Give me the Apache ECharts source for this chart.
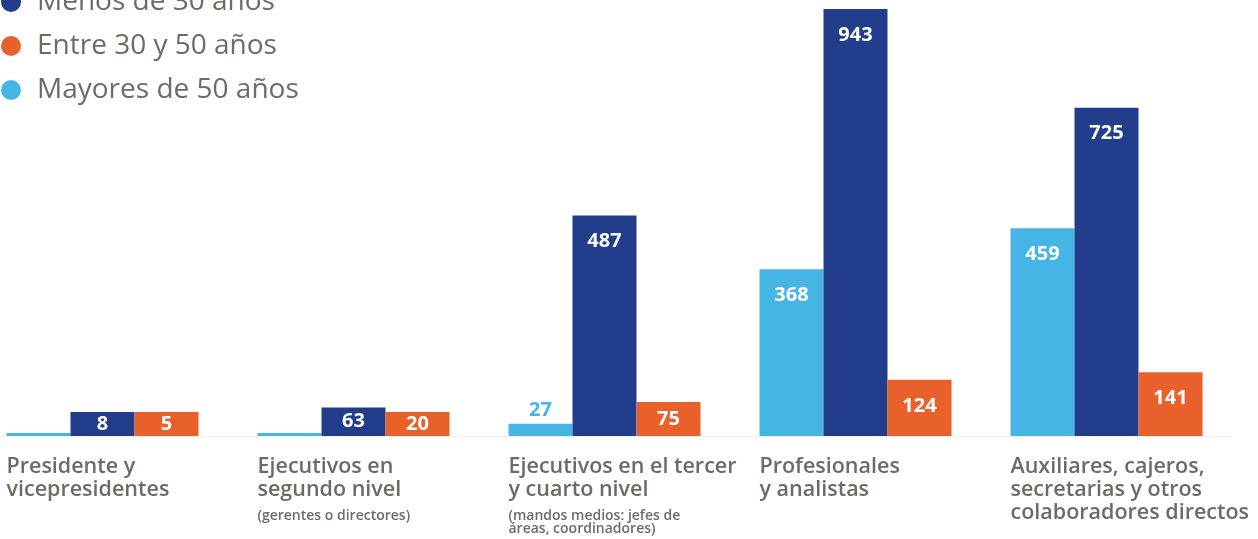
<!DOCTYPE html>
<html>
<head>
<meta charset="utf-8">
<script src="https://cdn.jsdelivr.net/npm/echarts@6/dist/echarts.min.js"></script>
<style>
  html, body { margin: 0; padding: 0; background: #ffffff; }
  #chart { width: 1258px; height: 539px; }
</style>
</head>
<body>
<div id="chart"></div>
<script>
// Cargos (nombre principal y nota entre paréntesis)
const categories = [
  'Presidente y\nvicepresidentes',
  'Ejecutivos en\nsegundo nivel',
  'Ejecutivos en el tercer\ny cuarto nivel',
  'Profesionales\ny analistas',
  'Auxiliares, cajeros,\nsecretarias y otros\ncolaboradores directos'
];
const notes = [
  '',
  '(gerentes o directores)',
  '(mandos medios: jefes de\náreas, coordinadores)',
  '',
  ''
];

// Número de colaboradores por rango de edad
const mayores50 = [0, 0, 27, 368, 459];
const menos30 = [8, 63, 487, 943, 725];
const entre30y50 = [5, 20, 75, 124, 141];

const seriesNames = ['Mayores de 50 años', 'Menos de 30 años', 'Entre 30 y 50 años'];
const legendOrder = ['Menos de 30 años', 'Entre 30 y 50 años', 'Mayores de 50 años'];

const colors = {
  light: '#45b5e6',
  dark: '#223d8c',
  orange: '#e8612b',
  text: '#6f6a65'
};

const chart = echarts.init(document.getElementById('chart'), null, { renderer: 'canvas' });

const labelFont = {
  fontFamily: 'Open Sans',
  fontWeight: 'bold',
  fontSize: 20
};

// Valor en blanco dentro de la barra; si la barra es muy baja, encima y del color de la serie
function makeLabel(color) {
  return Object.assign({
    show: true,
    color: '#ffffff',
    formatter: p => {
      if (p.value === 0) return '';
      return p.value < 40 && color === colors.light ? '{out|' + p.value + '}' : String(p.value);
    },
    rich: {
      out: Object.assign({ color: color }, labelFont)
    }
  }, labelFont);
}

function placeLabel(params) {
  const r = params.rect;
  const y = r.height < 20 ? r.y - 13 : r.y + Math.min(26, r.height / 2);
  return {
    x: r.x + r.width / 2,
    y: y,
    align: 'center',
    verticalAlign: 'middle'
  };
}

function barSeries(name, data, color, minH) {
  return {
    name: name,
    type: 'bar',
    data: data,
    barWidth: 64,
    barGap: '0%',
    barMinHeight: minH,
    itemStyle: { color: color },
    label: makeLabel(color),
    labelLayout: placeLabel,
    emphasis: { disabled: true },
    animation: false
  };
}

function categoryLabel(value, index) {
  const main = value.split('\n').map(l => '{m|' + l + '}');
  const sub = notes[index] ? notes[index].split('\n') : [];
  const subLines = sub.map((l, i) => (i === 0 ? '{s1|' + l + '}' : '{s|' + l + '}'));
  return main.concat(subLines).join('\n');
}

const subStyle = {
  align: 'left',
  color: colors.text,
  fontFamily: 'Open Sans',
  fontWeight: 600,
  fontSize: 14,
  lineHeight: 13
};

chart.setOption({
  backgroundColor: '#ffffff',
  animation: false,
  legend: {
    data: legendOrder,
    orient: 'vertical',
    left: 1,
    top: -12,
    padding: 0,
    icon: 'circle',
    itemWidth: 20,
    itemHeight: 20,
    itemGap: 16,
    selectedMode: false,
    textStyle: {
      color: colors.text,
      fontFamily: 'Open Sans',
      fontSize: 28,
      lineHeight: 27,
      padding: [0, 0, 0, 11]
    }
  },
  grid: {
    left: -23,
    right: 26,
    top: 9,
    bottom: 103,
    outerBoundsMode: 'none',
    containLabel: false
  },
  xAxis: {
    type: 'category',
    data: categories,
    axisTick: { show: false },
    axisLine: { show: true, lineStyle: { color: '#efefef', width: 1 } },
    axisLabel: {
      interval: 0,
      margin: 19,
      align: 'center',
      width: 192,
      hideOverlap: false,
      formatter: categoryLabel,
      rich: {
        m: {
          align: 'left',
          color: colors.text,
          fontFamily: 'Open Sans',
          fontWeight: 600,
          fontSize: 21.5,
          lineHeight: 23
        },
        s1: Object.assign({}, subStyle, { lineHeight: 22, verticalAlign: 'bottom' }),
        s: subStyle
      }
    }
  },
  yAxis: {
    type: 'value',
    min: 0,
    max: 'dataMax',
    show: false,
    splitLine: { show: false }
  },
  series: [
    barSeries(seriesNames[0], mayores50, colors.light, 3),
    barSeries(seriesNames[1], menos30, colors.dark, 24),
    barSeries(seriesNames[2], entre30y50, colors.orange, 24)
  ]
});
</script>
</body>
</html>
